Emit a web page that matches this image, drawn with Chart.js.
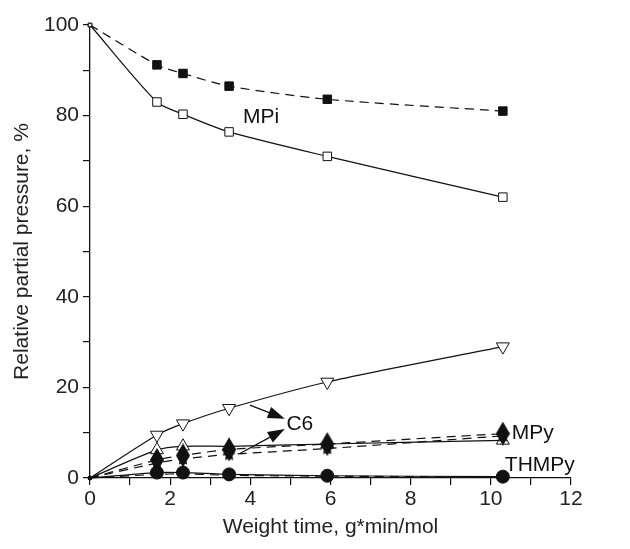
<!DOCTYPE html>
<html>
<head>
<meta charset="utf-8">
<script src="https://cdn.jsdelivr.net/npm/chart.js@4/dist/chart.umd.min.js"></script>
<style>
  html, body { margin: 0; padding: 0; background: #fff; }
  #wrap { width: 630px; height: 549px; }
</style>
</head>
<body>
<div id="wrap"><canvas id="chart" width="630" height="549"></canvas></div>
<script>
// Weight time points, g*min/mol
const weightTime = [0, 1.67, 2.32, 3.47, 5.92, 10.3];

// Relative partial pressure, %
const mpiFilled = [100, 91.2, 89.3, 86.5, 83.6, 81.0];
const mpiOpen = [100, 83.0, 80.3, 76.4, 71.0, 62.0];
const c6Open = [0, 9.5, 12.0, 15.4, 21.2, 29.0];
const c6Filled = [0, 4.0, 5.0, 6.3, 7.5, 9.8];
const mpyOpen = [0, 6.2, 7.0, 7.0, 7.5, 8.3];
const mpyFilled = [0, 3.3, 4.2, 5.2, 6.5, 9.3];
const thmpyOpen = [0, 1.2, 1.2, 0.8, 0.5, 0.3];
const thmpyFilled = [0, 0.8, 0.9, 0.6, 0.4, 0.2];

const xTicks = [0, 2, 4, 6, 8, 10, 12];
const yTicks = [0, 20, 40, 60, 80, 100];

const FONT = '"Liberation Sans", Arial, sans-serif';
const INK = '#111';

// small marker images for shapes Chart.js doesn't fill
function makeMarker(w, h, draw) {
    const c = document.createElement('canvas');
    c.width = w; c.height = h;
    const g = c.getContext('2d');
    g.fillStyle = INK;
    draw(g, w, h);
    return c;
}
const diamond = makeMarker(14, 24, (g, w, h) => {
    g.beginPath();
    g.moveTo(w / 2, 0); g.lineTo(w, h / 2); g.lineTo(w / 2, h); g.lineTo(0, h / 2);
    g.closePath(); g.fill();
});
const star = makeMarker(14, 14, (g, w, h) => {
    g.beginPath();
    for (let i = 0; i < 10; i++) {
        const r = i % 2 === 0 ? 7 : 3.4;
        const a = -Math.PI / 2 + i * Math.PI / 5;
        const px = w / 2 + r * Math.cos(a), py = h / 2 + r * Math.sin(a);
        i === 0 ? g.moveTo(px, py) : g.lineTo(px, py);
    }
    g.closePath(); g.fill();
});

// first point (origin) gets a tiny mark only
const first = (a, b) => ctx => ctx.dataIndex === 0 ? a : b;

function series(values, opts) {
    return Object.assign({
        data: weightTime.map((x, i) => ({ x: x, y: values[i] })),
        showLine: true,
        borderColor: INK,
        borderWidth: 1.2,
        tension: 0.25,
        pointBorderColor: INK,
        pointBorderWidth: 1,
        clip: false
    }, opts);
}

const dashed = [9, 6];

const annotations = {
    id: 'annotations',
    afterDatasetsDraw(chart) {
        const ctx = chart.ctx;
        const xs = chart.scales.x, ys = chart.scales.y;
        const px = v => xs.getPixelForValue(v);
        const py = v => ys.getPixelForValue(v);
        ctx.save();
        ctx.fillStyle = INK;
        ctx.strokeStyle = INK;
        ctx.font = '21px ' + FONT;
        ctx.textBaseline = 'middle';
        ctx.textAlign = 'left';
        ctx.fillText('MPi', px(3.82), py(79.6));
        ctx.fillText('C6', px(4.9), py(11.9));
        ctx.fillText('MPy', px(10.52), py(9.9));
        ctx.fillText('THMPy', px(10.35), py(2.8));

        function arrow(x1, y1, x2, y2) {
            const a = [px(x1), py(y1)], b = [px(x2), py(y2)];
            const ang = Math.atan2(b[1] - a[1], b[0] - a[0]);
            ctx.lineWidth = 1.3;
            ctx.beginPath();
            ctx.moveTo(a[0], a[1]);
            ctx.lineTo(b[0] - 12 * Math.cos(ang), b[1] - 12 * Math.sin(ang));
            ctx.stroke();
            ctx.beginPath();
            ctx.moveTo(b[0], b[1]);
            ctx.lineTo(b[0] - 17 * Math.cos(ang) + 6 * Math.sin(ang), b[1] - 17 * Math.sin(ang) - 6 * Math.cos(ang));
            ctx.lineTo(b[0] - 17 * Math.cos(ang) - 6 * Math.sin(ang), b[1] - 17 * Math.sin(ang) + 6 * Math.cos(ang));
            ctx.closePath();
            ctx.fill();
        }
        arrow(3.99, 16.1, 4.86, 13.1);
        arrow(3.74, 5.4, 4.86, 10.8);
        ctx.restore();
    }
};

// Chart.js paints the first dataset on top
new Chart(document.getElementById('chart'), {
    type: 'scatter',
    data: {
        datasets: [
            series(mpiOpen, { pointStyle: 'rect', pointBackgroundColor: '#fff', pointRadius: first(2.5, 6) }),
            series(mpiFilled, { borderDash: dashed, pointStyle: 'rect', pointBackgroundColor: INK, pointRadius: first(2.5, 6) }),
            series(thmpyOpen, { pointStyle: 'circle', pointBackgroundColor: INK, pointRadius: first(2, 6.5) }),
            series(thmpyFilled, { borderDash: dashed, pointRadius: 0 }),
            series(mpyFilled, { borderDash: dashed, pointStyle: first('rect', star), pointBackgroundColor: INK, pointRadius: first(2, 6) }),
            series(c6Filled, { borderDash: dashed, pointStyle: first('rect', diamond), pointBackgroundColor: INK, pointRadius: first(2, 10) }),
            series(mpyOpen, { pointStyle: 'triangle', pointBackgroundColor: '#fff', pointRadius: first(2, 7.5) }),
            series(c6Open, { pointStyle: 'triangle', pointRotation: 180, pointBackgroundColor: '#fff', pointRadius: first(2, 7.5) })
        ]
    },
    options: {
        responsive: false,
        animation: false,
        layout: { padding: { top: 25, right: 59, left: 0, bottom: 0 } },
        plugins: {
            legend: { display: false },
            tooltip: { enabled: false }
        },
        scales: {
            x: {
                type: 'linear',
                min: 0,
                max: 12,
                afterFit: s => { s.height = 71; },
                afterBuildTicks: s => { s.ticks = [...Array(13).keys()].map(v => ({ value: v })); },
                border: { display: true, color: INK, width: 1.3 },
                grid: { display: true, drawOnChartArea: false, color: INK, lineWidth: 1.2, tickLength: 7 },
                ticks: {
                    autoSkip: false,
                    maxRotation: 0,
                    color: '#222',
                    padding: 2,
                    font: { family: FONT, size: 21 },
                    callback: v => xTicks.includes(v) ? String(v) : ''
                },
                title: {
                    display: true,
                    text: 'Weight time, g*min/mol',
                    color: '#222',
                    font: { family: FONT, size: 21 },
                    padding: { top: 0, bottom: 9 }
                }
            },
            y: {
                type: 'linear',
                min: 0,
                max: 100,
                afterFit: s => { s.width = 90; },
                afterBuildTicks: s => { s.ticks = [...Array(11).keys()].map(v => ({ value: v * 10 })); },
                border: { display: true, color: INK, width: 1.3 },
                grid: { display: true, drawOnChartArea: false, color: INK, lineWidth: 1.2, tickLength: 7 },
                ticks: {
                    autoSkip: false,
                    color: '#222',
                    padding: 4,
                    font: { family: FONT, size: 21 },
                    callback: v => yTicks.includes(v) ? String(v) : ''
                },
                title: {
                    display: true,
                    text: 'Relative partial pressure, %',
                    color: '#222',
                    font: { family: FONT, size: 21 },
                    padding: { top: 10, bottom: 0 }
                }
            }
        }
    },
    plugins: [annotations]
});
</script>
</body>
</html>
